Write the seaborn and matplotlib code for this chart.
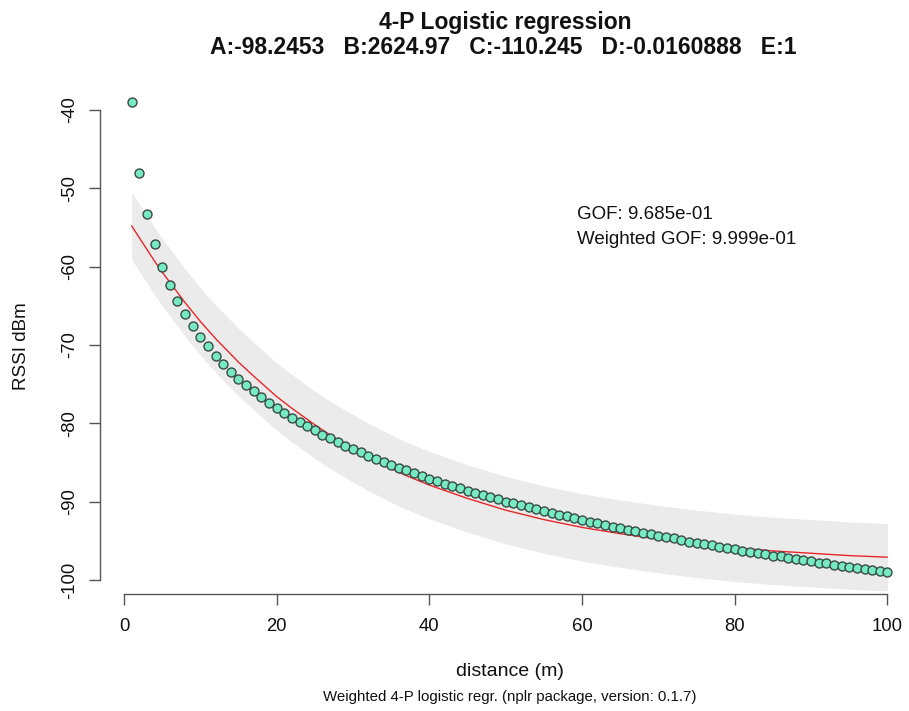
import numpy as np
import pandas as pd
import seaborn as sns
import matplotlib
matplotlib.use("Agg")
import matplotlib.pyplot as plt

distance = list(range(1, 101))
rssi = [-39.0, -48.0, -53.3, -57.1, -60.0, -62.3, -64.4, -66.1, -67.6, -69.0,
        -70.2, -71.4, -72.4, -73.4, -74.3, -75.1, -75.9, -76.7, -77.4, -78.0,
        -78.7, -79.3, -79.9, -80.4, -80.9, -81.5, -81.9, -82.4, -82.9, -83.3,
        -83.7, -84.2, -84.6, -84.9, -85.3, -85.7, -86.0, -86.4, -86.7, -87.1,
        -87.4, -87.7, -88.0, -88.3, -88.6, -88.9, -89.2, -89.4, -89.7, -90.0,
        -90.2, -90.5, -90.7, -91.0, -91.2, -91.4, -91.7, -91.9, -92.1, -92.3,
        -92.6, -92.8, -93.0, -93.2, -93.4, -93.6, -93.8, -94.0, -94.2, -94.4,
        -94.5, -94.7, -94.9, -95.1, -95.3, -95.4, -95.6, -95.8, -95.9, -96.1,
        -96.3, -96.4, -96.6, -96.7, -96.9, -97.0, -97.2, -97.3, -97.5, -97.6,
        -97.8, -97.9, -98.1, -98.2, -98.3, -98.5, -98.6, -98.7, -98.9, -99.0]

# fitted curve and its band
fit_x = [1, 2, 3, 4, 5, 6, 7, 8, 9, 10, 11, 12, 13, 15, 17, 20, 22, 25, 27, 30,
         32, 35, 37, 40, 45, 50, 55, 60, 65, 70, 75, 80, 85, 90, 95, 100]
fit_y = [-54.8, -56.3, -57.8, -59.3, -60.7, -62.0, -63.3, -64.6, -65.8, -67.0,
         -68.1, -69.2, -70.2, -72.2, -74.0, -76.6, -78.1, -80.2, -81.5, -83.2,
         -84.3, -85.8, -86.7, -87.9, -89.6, -91.1, -92.3, -93.3, -94.1, -94.8,
         -95.4, -95.9, -96.3, -96.6, -96.9, -97.1]
band_hi = [-50.5, -52.0, -53.5, -55.0, -56.4, -57.7, -59.0, -60.3, -61.5, -62.7,
           -63.8, -64.9, -65.9, -67.9, -69.7, -72.3, -73.8, -75.9, -77.2, -78.9,
           -80.0, -81.5, -82.4, -83.6, -85.3, -86.8, -88.0, -89.0, -89.8, -90.5,
           -91.1, -91.6, -92.0, -92.3, -92.6, -92.8]
band_lo = [-59.1, -60.6, -62.1, -63.6, -65.0, -66.3, -67.6, -68.9, -70.1, -71.3,
           -72.4, -73.5, -74.5, -76.5, -78.3, -80.9, -82.4, -84.5, -85.8, -87.5,
           -88.6, -90.1, -91.0, -92.2, -93.9, -95.4, -96.6, -97.6, -98.4, -99.1,
           -99.7, -100.2, -100.6, -100.9, -101.2, -101.4]

x_ticks = [0, 20, 40, 60, 80, 100]
y_ticks = [-40, -50, -60, -70, -80, -90, -100]

sns.set_style("white")
plt.rcParams['font.family'] = ['Liberation Sans', 'DejaVu Sans']
plt.rcParams['text.color'] = '#111111'

fig = plt.figure(figsize=(9.09, 7.11), dpi=100)
ax = fig.add_axes([100 / 909, 117 / 711, 805 / 909, 499 / 711])

ax.fill_between(fit_x, band_lo, band_hi, color="#ebebeb", linewidth=0, zorder=1)
sns.lineplot(x=fit_x, y=fit_y, ax=ax, color="#e8262a", linewidth=1.0, zorder=2)
pts = pd.DataFrame({"distance": distance, "rssi": rssi})
sns.scatterplot(data=pts, x="distance", y="rssi", ax=ax, color="#76eac2",
                edgecolor="#3a4a44", linewidth=1.0, s=42, zorder=3)

ax.set_xlim(-3.14, 102.3)
ax.set_ylim(-101.8, -38.1)
ax.set_xticks(x_ticks)
ax.set_yticks(y_ticks)
ax.set_yticklabels([str(v) for v in y_ticks], rotation=90, va="center")
for side in ["top", "right"]:
    ax.spines[side].set_visible(False)
ax.spines["left"].set_bounds(-100, -40)
ax.spines["bottom"].set_bounds(0, 100)
for side in ["left", "bottom"]:
    ax.spines[side].set_color("#555555")
    ax.spines[side].set_linewidth(1.0)
ax.tick_params(axis="both", direction="out", length=8, width=1.0,
               color="#555555", labelcolor="#111111", labelsize=13.3,
               left=True, bottom=True)
ax.tick_params(axis="x", pad=9)
ax.tick_params(axis="y", pad=8)
ax.set_xlabel("")
ax.set_ylabel("")

ax.text(59.3, -53.4, "GOF: 9.685e-01", fontsize=13.5, va="center", ha="left")
ax.text(59.3, -56.6, "Weighted GOF: 9.999e-01", fontsize=13.5, va="center", ha="left")

fig.text(505 / 909, 1 - 22 / 711, "4-P Logistic regression", fontsize=16.5,
         fontweight="bold", ha="center", va="center")
fig.text(503 / 909, 1 - 47 / 711,
         "A:-98.2453   B:2624.97   C:-110.245   D:-0.0160888   E:1",
         fontsize=16.5, fontweight="bold", ha="center", va="center")
fig.text(22 / 909, 1 - 346 / 711, "RSSI dBm", fontsize=13.5, rotation=90,
         ha="center", va="center")
fig.text(510 / 909, 1 - 671 / 711, "distance (m)", fontsize=14,
         ha="center", va="center")
fig.text(510 / 909, 1 - 697 / 711,
         "Weighted 4-P logistic regr. (nplr package, version: 0.1.7)",
         fontsize=10.8, ha="center", va="center")

fig.savefig("out.png", dpi=100)
